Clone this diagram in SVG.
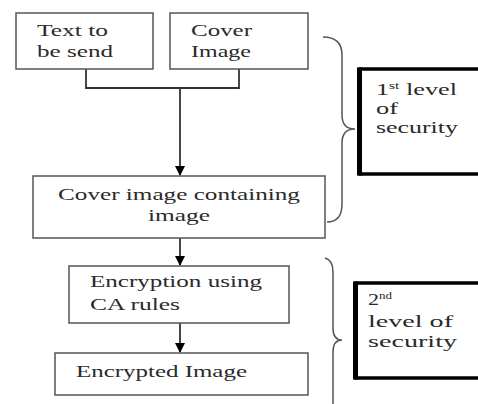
<svg xmlns="http://www.w3.org/2000/svg" width="478" height="404" viewBox="0 0 478 404">
<style>
.box{fill:#fff;stroke:#555;stroke-width:1.5}
.lvl{fill:#fff;stroke:#000;stroke-width:3.5}
.lvlL{stroke:#000;stroke-width:5}
.t{font-family:"Liberation Serif","Times New Roman",serif;font-size:17px;fill:#2a2a2a}
.sup{font-size:10px}
.ln{fill:none;stroke:#333;stroke-width:1.8}
.br{fill:none;stroke:#555;stroke-width:1.5}
</style>
<defs>
<marker id="ah" markerWidth="10" markerHeight="10" refX="9" refY="5" orient="auto" markerUnits="userSpaceOnUse">
<path d="M0,0 L10,5 L0,10 Z" fill="#000"/>
</marker>
</defs>
<g id="connectors">
<path class="ln" d="M86,69 V88 H239 V69"/>
<path class="ln" d="M180,88 V175" marker-end="url(#ah)"/>
<path class="ln" d="M180,238 V265" marker-end="url(#ah)"/>
<path class="ln" d="M180,323 V352" marker-end="url(#ah)"/>
</g>
<g id="n1"><rect class="box" x="16" y="13" width="137" height="56"/>
<text class="t" transform="translate(37,36) scale(1.47,1)" textLength="48.3" lengthAdjust="spacingAndGlyphs">Text to</text>
<text class="t" transform="translate(37,57) scale(1.47,1)" textLength="51.7" lengthAdjust="spacingAndGlyphs">be send</text></g>
<g id="n2"><rect class="box" x="170" y="13" width="138" height="56"/>
<text class="t" transform="translate(191,36) scale(1.47,1)" textLength="41.5" lengthAdjust="spacingAndGlyphs">Cover</text>
<text class="t" transform="translate(191,57) scale(1.47,1)" textLength="40.8" lengthAdjust="spacingAndGlyphs">Image</text></g>
<g id="n3"><rect class="box" x="33" y="176" width="292" height="62"/>
<text class="t" transform="translate(58,200) scale(1.47,1)" textLength="164.6" lengthAdjust="spacingAndGlyphs">Cover image containing</text>
<text class="t" transform="translate(148,221) scale(1.47,1)" textLength="42.2" lengthAdjust="spacingAndGlyphs">image</text></g>
<g id="n4"><rect class="box" x="69" y="266" width="220" height="57"/>
<text class="t" transform="translate(90,287) scale(1.47,1)" textLength="117" lengthAdjust="spacingAndGlyphs">Encryption using</text>
<text class="t" transform="translate(90,310) scale(1.47,1)" textLength="61.2" lengthAdjust="spacingAndGlyphs">CA rules</text></g>
<g id="n5"><rect class="box" x="55" y="353" width="253" height="42"/>
<text class="t" transform="translate(76,377) scale(1.47,1)" textLength="116.3" lengthAdjust="spacingAndGlyphs">Encrypted Image</text></g>
<g id="brace1"><path class="br" d="M323,37 Q342,37 342,55 V115 Q342,129 355,129 Q342,129 342,143 V204 Q342,222 327,222"/></g>
<g id="brace2"><path class="br" d="M325,258 Q333,260 333,272 V328 Q333,340 342,340 Q333,340 333,352 V410"/></g>
<g id="lvl1"><rect class="lvl" x="360" y="69" width="130" height="105"/>
<line class="lvlL" x1="359.5" y1="67.5" x2="359.5" y2="175.5"/>
<text class="t" transform="translate(376,95) scale(1.3,1)" textLength="62.3" lengthAdjust="spacingAndGlyphs">1<tspan class="sup" dy="-6">st</tspan><tspan dy="6"> level</tspan></text>
<text class="t" transform="translate(376,114) scale(1.3,1)" textLength="16.9" lengthAdjust="spacingAndGlyphs">of</text>
<text class="t" transform="translate(376,133) scale(1.3,1)" textLength="63" lengthAdjust="spacingAndGlyphs">security</text></g>
<g id="lvl2"><rect class="lvl" x="356" y="283" width="135" height="95"/>
<line class="lvlL" x1="355.5" y1="281.5" x2="355.5" y2="379.5"/>
<text class="t" transform="translate(368,305) scale(1.3,1)" textLength="18.5" lengthAdjust="spacingAndGlyphs">2<tspan class="sup" dy="-6">nd</tspan></text>
<text class="t" transform="translate(368,327) scale(1.3,1)" textLength="65.4" lengthAdjust="spacingAndGlyphs">level of</text>
<text class="t" transform="translate(368,347) scale(1.3,1)" textLength="68.5" lengthAdjust="spacingAndGlyphs">security</text></g>
</svg>
